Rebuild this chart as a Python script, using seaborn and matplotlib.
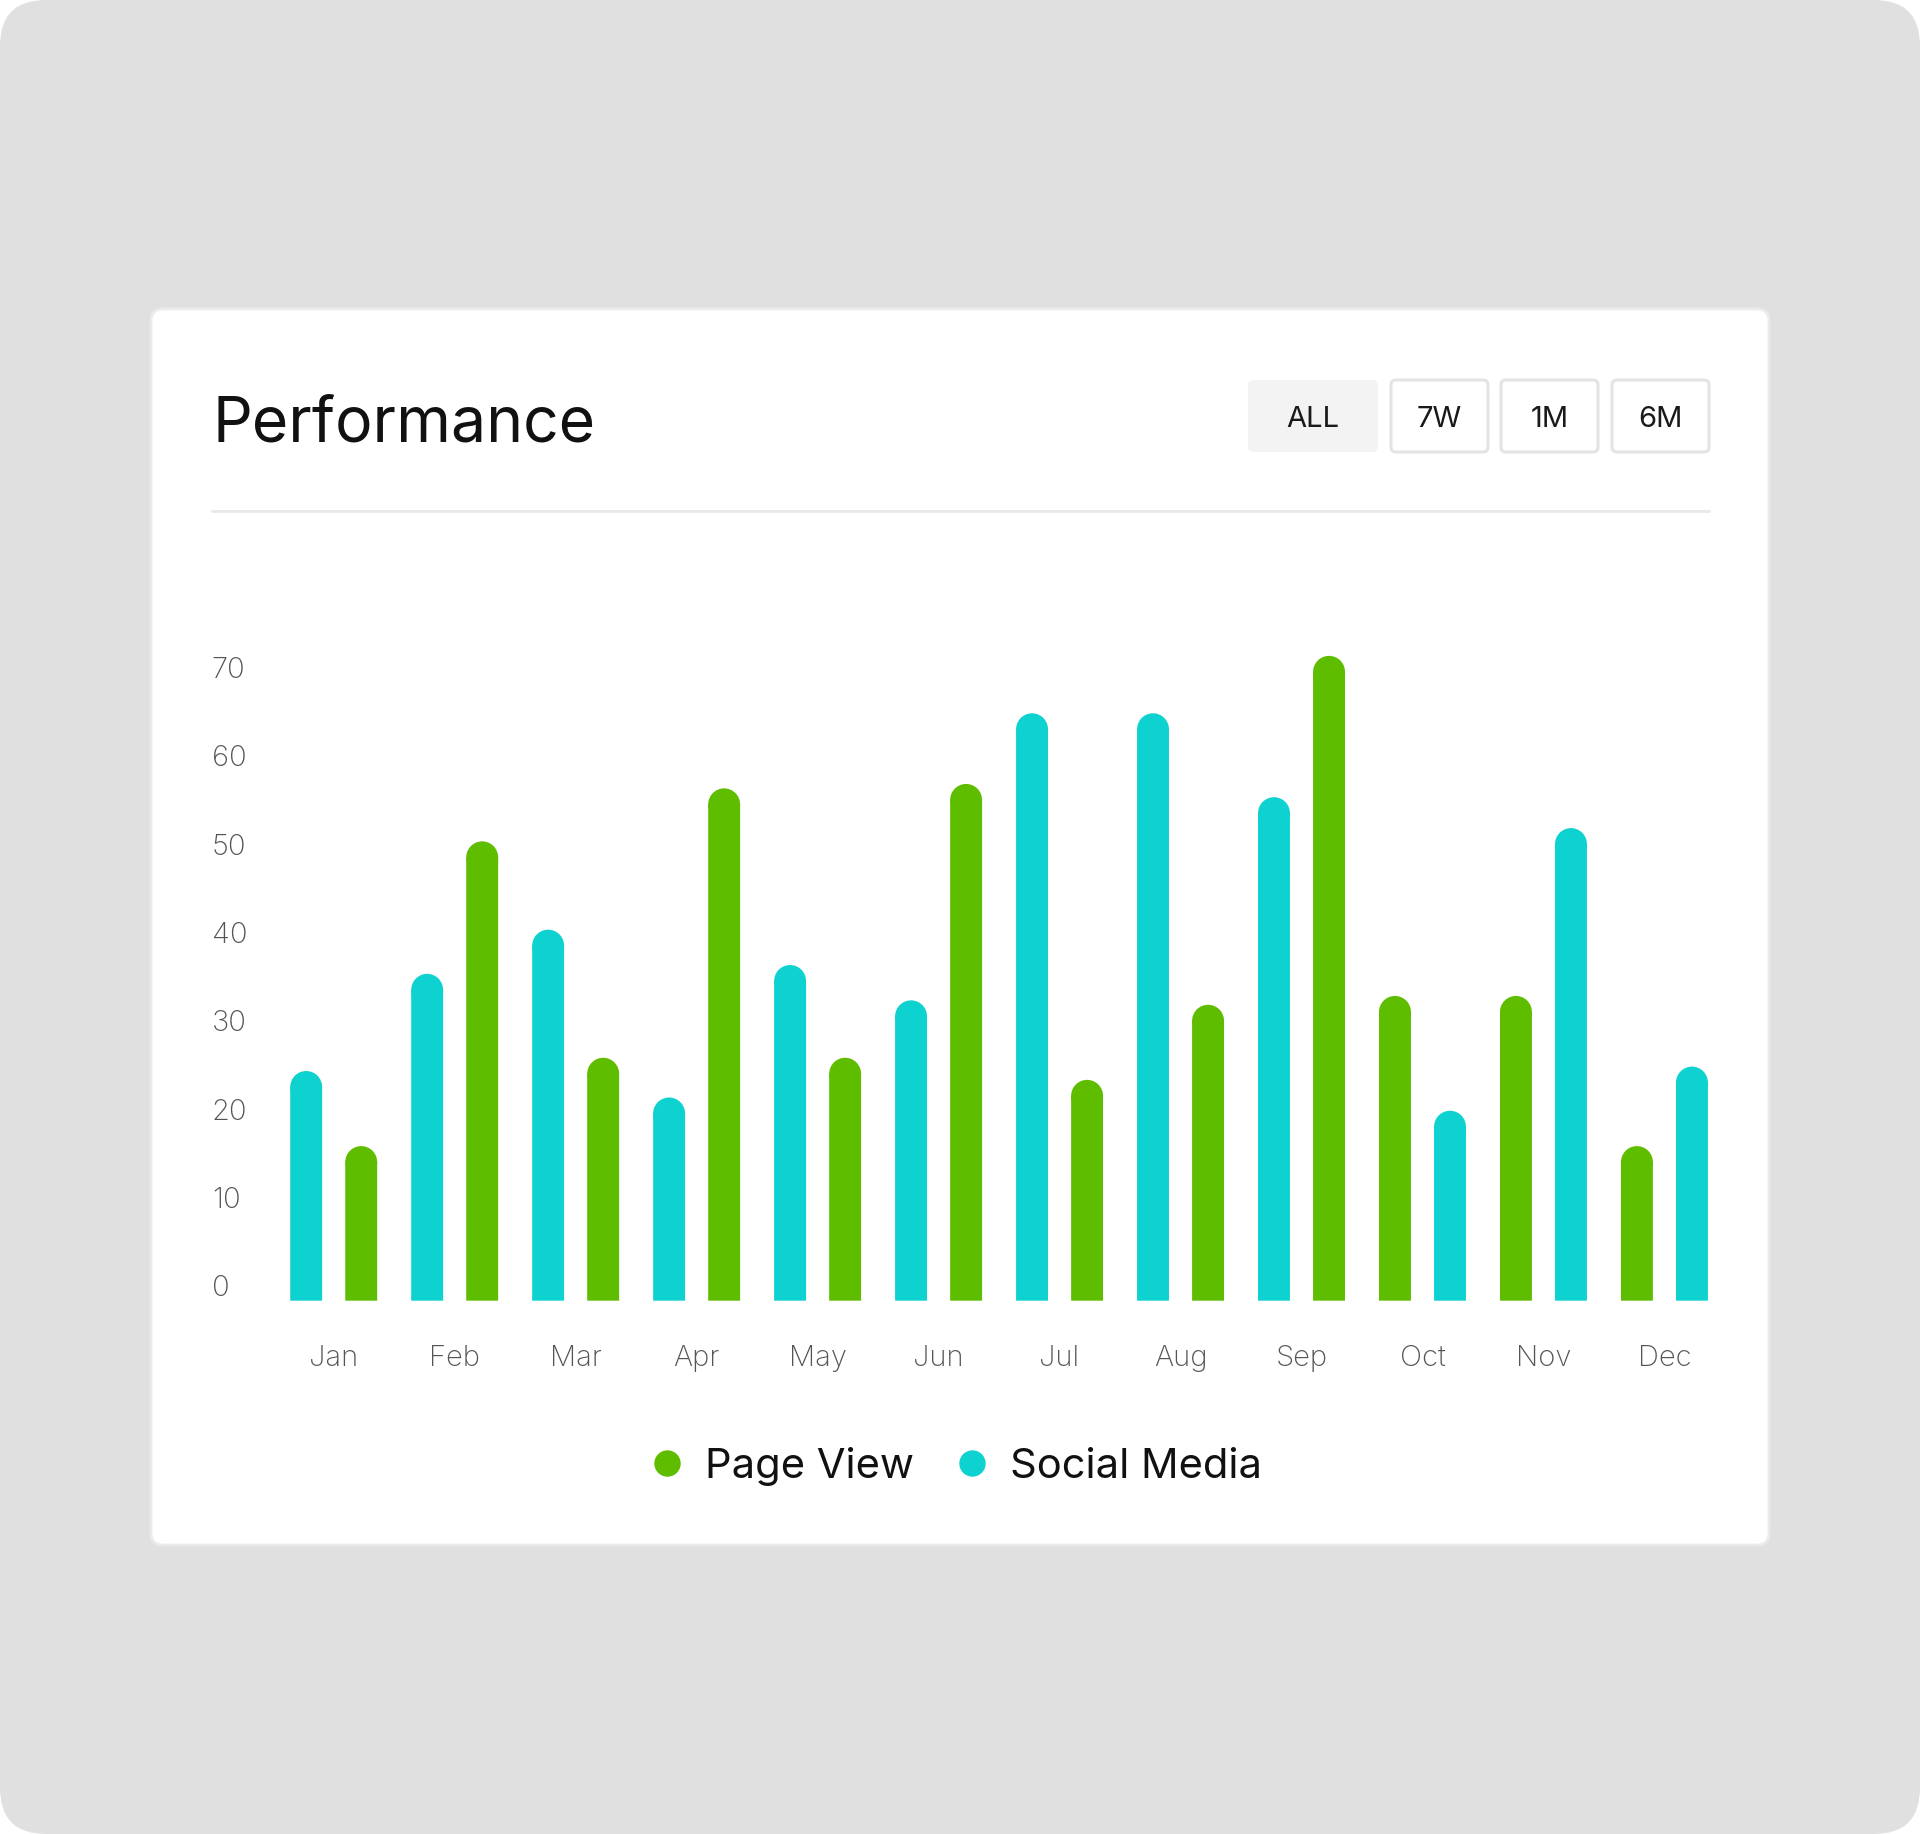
import matplotlib
matplotlib.use("Agg")
import matplotlib.pyplot as plt
import matplotlib.transforms as mtransforms
from matplotlib.patches import FancyBboxPatch, Ellipse
from matplotlib.lines import Line2D
import pandas as pd
import seaborn as sns

# data
months = ['Jan', 'Feb', 'Mar', 'Apr', 'May', 'Jun',
          'Jul', 'Aug', 'Sep', 'Oct', 'Nov', 'Dec']
page_view = [17.5, 52, 27.5, 58, 27.5, 58.5, 25, 33.5, 73, 34.5, 34.5, 17.5]
social_media = [26, 37, 42, 23, 38, 34, 66.5, 66.5, 57, 21.5, 53.5, 26.5]
# which series sits on the left inside each month group
left_series = ['Social Media'] * 9 + ['Page View'] * 3
y_ticks = [0, 10, 20, 30, 40, 50, 60, 70]
buttons = ['ALL', '7W', '1M', '6M']

GREEN = '#5fbd00'
CYAN = '#0dd2d0'
colors = {'Page View': GREEN, 'Social Media': CYAN}

rows = []
for i, m in enumerate(months):
    for name, vals in (('Page View', page_view), ('Social Media', social_media)):
        slot = 0 if left_series[i] == name else 1
        rows.append({'month': m, 'series': name, 'value': vals[i], 'slot': slot})
df = pd.DataFrame(rows)

sns.set_theme(style='white')
plt.rcParams['font.family'] = ['Inter', 'DejaVu Sans']

W, H, DPI = 1920, 1834, 100
fig = plt.figure(figsize=(W / DPI, H / DPI), dpi=DPI, facecolor='white')
px = mtransforms.IdentityTransform()

# outer grey frame and white card (pixel coords, origin bottom-left)
fig.add_artist(FancyBboxPatch((0, 0), W, H, boxstyle='round,pad=0,rounding_size=46',
                              transform=px, facecolor='#e0e0e0', edgecolor='none', zorder=-3))
fig.add_artist(FancyBboxPatch((151, H - 1545), 1618, 1236, boxstyle='round,pad=0,rounding_size=12',
                              transform=px, facecolor='white', edgecolor='#ebebeb',
                              linewidth=2, zorder=-2))

# header
fig.text(212 / W, 1 - 425 / H, 'Performance', fontsize=45, color='#111111',
         ha='left', va='center')
btn_x = [(1248, 1378), (1391, 1488), (1501, 1598), (1612, 1709)]
for label, (x0, x1) in zip(buttons, btn_x):
    y0, y1 = H - 452, H - 380
    if label == 'ALL':
        fig.add_artist(FancyBboxPatch((x0, y0), x1 - x0, y1 - y0,
                                      boxstyle='round,pad=0,rounding_size=5', transform=px,
                                      facecolor='#f3f3f3', edgecolor='none'))
    else:
        fig.add_artist(FancyBboxPatch((x0, y0), x1 - x0, y1 - y0,
                                      boxstyle='round,pad=0,rounding_size=5', transform=px,
                                      facecolor='white', edgecolor='#e4e4e4', linewidth=2.2))
    fig.text((x0 + x1) / 2 / W, 1 - 420 / H, label, fontsize=21, color='#1a1a1a',
             ha='center', va='center')
fig.add_artist(Line2D([212, 1709], [H - 511, H - 511], transform=px,
                      color='#e8e8e8', linewidth=2))

# bar chart
ax = fig.add_axes([0.1423, 0.2908, 0.7561, 0.3853])
ax.set_facecolor('none')
sns.barplot(data=df, x='month', y='value', hue='slot', order=months,
            dodge=True, width=0.91, gap=0.42, linewidth=0, legend=False,
            errorbar=None, ax=ax)
ax.set_xlim(-0.5, len(months) - 0.5)
ax.set_ylim(0, 80)
sns.despine(ax=ax, left=True, bottom=True)
ax.set_xlabel('')
ax.set_ylabel('')

# colour bars by series and give them round tops
fig.canvas.draw()
p0 = ax.transData.transform((0, 0))
p1 = ax.transData.transform((1, 1))
px_x, px_y = p1[0] - p0[0], p1[1] - p0[1]
for slot, cont in enumerate(ax.containers):
    for i, bar in enumerate(cont):
        if slot == 0:
            name = left_series[i]
        else:
            name = 'Social Media' if left_series[i] == 'Page View' else 'Page View'
        c = colors[name]
        w = bar.get_width()
        r = w * px_x / 2 / px_y
        top = bar.get_height()
        bar.set_facecolor(c)
        bar.set_snap(False)
        bar.set_height(top - r)
        ax.add_patch(Ellipse((bar.get_x() + w / 2, top - r), w, 2 * r,
                             facecolor=c, edgecolor='none', linewidth=0))

ax.set_yticks([])
ax.tick_params(axis='x', length=0, pad=32, labelsize=21, labelcolor='#555555')
for lab in ax.get_xticklabels():
    lab.set_fontweight('light')
off = mtransforms.ScaledTranslation(0, 12 / DPI, fig.dpi_scale_trans)
for t in y_ticks:
    ax.text(-0.0423, t, str(t), transform=ax.get_yaxis_transform() + off,
            ha='left', va='center', fontsize=21, color='#555555', fontweight='light')

handles = [Line2D([], [], marker='o', linestyle='', color=GREEN, ms=19, mew=0),
           Line2D([], [], marker='o', linestyle='', color=CYAN, ms=19, mew=0)]
fig.legend(handles, ['Page View', 'Social Media'], loc='center',
           bbox_to_anchor=(0.497, 1 - 1466 / H), ncol=2, frameon=False,
           fontsize=30, handletextpad=0.4, columnspacing=0.9, handlelength=1.0,
           labelcolor='#111111')

fig.savefig('out.png', dpi=DPI, facecolor='white')
